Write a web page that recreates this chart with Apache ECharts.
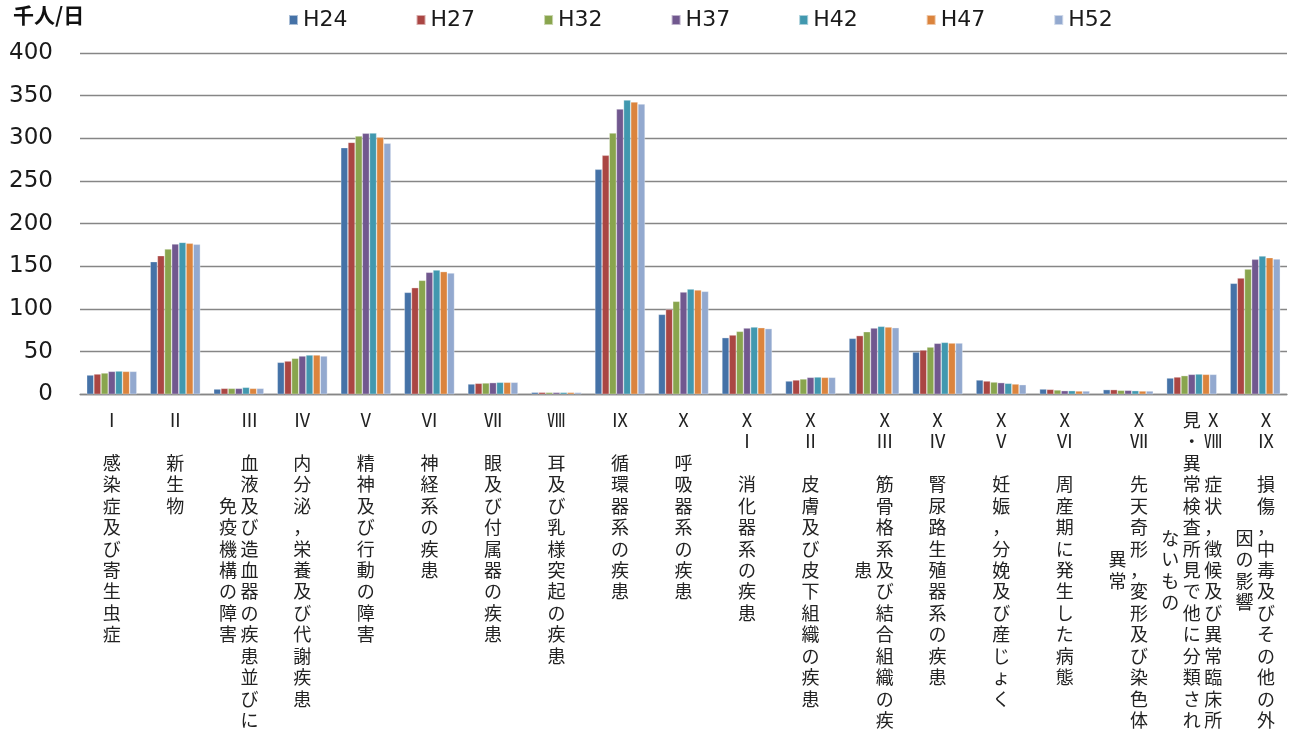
<!DOCTYPE html>
<html><head><meta charset="utf-8">
<script src="https://cdn.jsdelivr.net/npm/echarts@6/dist/echarts.min.js"></script>
<style>html,body{margin:0;padding:0;background:#fff}#c{width:1296px;height:736px}</style>
</head><body><div id="c"></div>
<script>
const categories = [
  'Ⅰ　感染症及び寄生虫症',
  'Ⅱ　新生物',
  'Ⅲ　血液及び造血器の疾患並びに免疫機構の障害',
  'Ⅳ　内分泌，栄養及び代謝疾患',
  'Ⅴ　精神及び行動の障害',
  'Ⅵ　神経系の疾患',
  'Ⅶ　眼及び付属器の疾患',
  'Ⅷ　耳及び乳様突起の疾患',
  'Ⅸ　循環器系の疾患',
  'Ⅹ　呼吸器系の疾患',
  'ⅩⅠ　消化器系の疾患',
  'ⅩⅡ　皮膚及び皮下組織の疾患',
  'ⅩⅢ　筋骨格系及び結合組織の疾患',
  'ⅩⅣ　腎尿路生殖器系の疾患',
  'ⅩⅤ　妊娠，分娩及び産じょく',
  'ⅩⅥ　周産期に発生した病態',
  'ⅩⅦ　先天奇形，変形及び染色体異常',
  'ⅩⅧ　症状，徴候及び異常臨床所見・異常検査所見で他に分類されないもの',
  'ⅩⅨ　損傷，中毒及びその他の外因の影響'
];
const seriesNames = ['H24', 'H27', 'H32', 'H37', 'H42', 'H47', 'H52'];
const H24 = [22.6, 155.5, 6.2, 37.5, 289.1, 119.5, 12.1, 2.4, 263.7, 93.7, 66.4, 15.6, 65.6, 49.6, 16.8, 6.2, 5.5, 19.1, 130.1];
const H27 = [23.8, 162.5, 7.0, 39.0, 295.3, 125.0, 12.9, 2.4, 280.1, 99.6, 69.5, 16.8, 68.8, 51.9, 15.6, 5.8, 5.5, 20.3, 136.3];
const H32 = [25.0, 170.3, 7.0, 42.2, 302.7, 133.6, 13.3, 2.3, 306.2, 109.0, 73.8, 18.0, 73.4, 55.4, 14.4, 5.1, 4.7, 21.9, 146.8];
const H37 = [26.9, 176.2, 7.0, 44.9, 305.9, 143.0, 13.7, 2.3, 334.4, 119.9, 77.7, 19.9, 77.7, 59.8, 13.7, 4.3, 4.7, 23.4, 158.2];
const H42 = [27.3, 178.1, 8.2, 46.1, 306.2, 145.7, 14.1, 2.3, 344.9, 123.4, 78.9, 20.3, 79.7, 60.9, 12.9, 4.3, 4.3, 23.8, 162.1];
const H47 = [26.9, 177.0, 7.0, 46.1, 301.2, 143.8, 14.1, 2.3, 342.6, 122.3, 78.1, 19.9, 78.9, 60.1, 12.1, 3.9, 3.9, 23.4, 160.2];
const H52 = [26.9, 175.8, 7.0, 44.9, 294.2, 142.2, 14.1, 2.2, 340.2, 120.7, 77.0, 19.9, 78.1, 60.1, 11.3, 3.9, 3.9, 23.4, 158.6];
const yMin = 0, yMax = 400, yStep = 50;
const unitLabel = '千人/日';

const seriesValues = [H24, H27, H32, H37, H42, H47, H52];
const colors = ['#4572A7', '#AA4643', '#89A54E', '#71588F', '#4198AF', '#DB843D', '#93A9CF'];

const COL_LEN = 15;
const PITCH = 21.45;
const CJK = '"Noto Sans CJK JP", "Noto Sans CJK SC", sans-serif';
const LAT = '"DejaVu Sans", sans-serif';

function columns(label) {
  const ch = Array.from(label);
  const cols = [];
  for (let i = 0; i < ch.length; i += COL_LEN) cols.push(ch.slice(i, i + COL_LEN));
  return cols;
}
function colLabel(label, k) {
  const cols = columns(label);
  if (k >= cols.length) return '';
  const n = cols.length;
  const shift = (n - 1) / 2 - k;
  const st = shift > 0 ? 'r' + Math.round(shift * 2) : shift < 0 ? 'l' + Math.round(-shift * 2) : 'c';
  const lines = [];
  if (k > 0) {
    const off = (COL_LEN - cols[k].length) / 2;
    for (let i = 0; i < Math.floor(off); i++) lines.push('{b| }');
    if (off % 1) lines.push('{h| }');
  }
  cols[k].forEach(c => lines.push('{' + st + '|' + c + '}'));
  return lines.join('\n');
}
const baseTxt = { fontSize: 18, lineHeight: PITCH, fontFamily: CJK, color: '#222' };
const rich = {
  c: Object.assign({}, baseTxt),
  r1: Object.assign({}, baseTxt, { padding: [0, 0, 0, PITCH] }),
  r2: Object.assign({}, baseTxt, { padding: [0, 0, 0, 2 * PITCH] }),
  l1: Object.assign({}, baseTxt, { padding: [0, PITCH, 0, 0] }),
  l2: Object.assign({}, baseTxt, { padding: [0, 2 * PITCH, 0, 0] }),
  b: { fontSize: 10, lineHeight: PITCH },
  h: { fontSize: 6, lineHeight: PITCH / 2 }
};
function makeXAxis(k) {
  return {
    type: 'category', data: categories, position: 'bottom', gridIndex: 0,
    axisLine: { show: k === 0, lineStyle: { color: '#868686', width: 1.3 } },
    axisTick: { show: false }, splitLine: { show: false },
    axisLabel: { interval: 0, margin: 15, fontFamily: CJK, fontSize: 18, color: '#222',
      formatter: (v) => colLabel(v, k), rich: rich }
  };
}

const chart = echarts.init(document.getElementById('c'), null, { renderer: 'canvas' });
chart.setOption({
  animation: false,
  backgroundColor: '#fff',
  title: { text: unitLabel, left: 13, top: 5, padding: 0,
    textStyle: { fontFamily: CJK, fontSize: 21, fontWeight: 'bold', color: '#111' } },
  legend: {
    data: seriesNames, left: 288, top: 9, padding: 0, itemGap: 68,
    itemWidth: 9, itemHeight: 10, icon: 'rect',
    textStyle: { fontFamily: LAT, fontSize: 22, color: '#1a1a1a' }
  },
  grid: { left: 80, right: 9, top: 53, bottom: 341.7, containLabel: false, outerBoundsMode: 'none' },
  xAxis: [makeXAxis(0), makeXAxis(1), makeXAxis(2)],
  yAxis: {
    type: 'value', min: yMin, max: yMax, interval: yStep,
    axisLine: { show: false }, axisTick: { show: false },
    splitLine: { lineStyle: { color: '#868686', width: 1.3 } },
    axisLabel: { margin: 27, fontFamily: LAT, fontSize: 23, color: '#1a1a1a' }
  },
  series: seriesNames.map((nm, i) => ({
    name: nm, type: 'bar', xAxisIndex: 0, data: seriesValues[i],
    barGap: '0%', barCategoryGap: '21%',
    itemStyle: { color: colors[i], borderColor: 'rgba(255,255,255,0.55)', borderWidth: 0.6 }
  }))
});
</script>
</body></html>
